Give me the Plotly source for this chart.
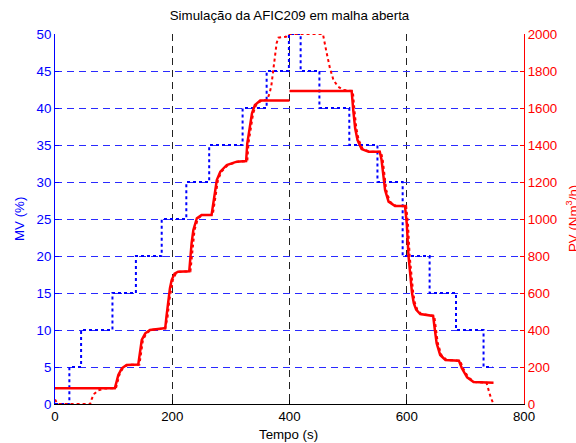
import plotly.graph_objects as go

# ---- data ----
# MV (%) step signal: times at which the level changes, and the new level
mv_t = [0, 24.5, 44.5, 98, 138, 182, 224, 263, 320, 361, 399, 419, 451, 502, 550, 593, 639, 684, 731, 746]
mv_v = [0, 5, 10, 15, 20, 25, 30, 35, 40, 45, 50, 45, 40, 35, 30, 20, 15, 10, 5, 5]

# PV model (solid red), two simulation segments separated by a gap
pv_sim_t = [0, 102, 105, 108, 114, 122, 142, 145, 148, 154, 162, 186, 188, 190, 193, 196, 199, 204, 210, 229,
            233, 236, 242, 250, 267, 270, 276, 282, 293, 310, 326, 328, 332, 336, 341, 350, 400,
            None,
            400, 506, 509, 512, 516, 523, 535, 554, 557, 560, 563, 569, 580, 597, 600, 603, 606, 609, 612,
            616, 623, 645, 648, 651, 657, 666, 689, 694, 703, 714, 748]
pv_sim_v = [85, 85, 120, 157, 193, 211, 213, 292, 346, 382, 400, 409, 409, 470, 560, 625, 670, 705, 715, 717,
            869, 941, 1004, 1021, 1021, 1085, 1211, 1256, 1292, 1310, 1313, 1409, 1499, 1571, 1616, 1640, 1640,
            None,
            1692, 1692, 1580, 1490, 1427, 1378, 1364, 1364, 1320, 1247, 1157, 1094, 1070, 1070, 977, 800, 680, 600, 545,
            510, 486, 476, 400, 328, 265, 238, 234, 193, 144, 119, 115]

# PV measured (dotted red)
pv_real_t = [0, 3, 6, 60, 63, 67, 74, 85, 104, 107, 110, 116, 124, 144, 147, 150, 156, 164, 188, 192, 195, 198,
             201, 206, 212, 231, 235, 238, 244, 252, 269, 272, 278, 284, 295, 312, 328, 330, 334, 338, 343, 352,
             362, 366, 369, 372, 375, 378, 381, 394, 397, 457, 463, 469, 475, 483, 492, 508, 511, 514, 518, 525,
             537, 556, 559, 562, 565, 571, 582, 599, 602, 605, 608, 611, 614, 618, 625, 647, 650, 653, 659, 668,
             691, 696, 705, 716, 736, 739, 742, 745, 748]
pv_real_v = [25, 8, 0, 0, 30, 55, 74, 84, 86, 125, 160, 195, 211, 213, 292, 346, 382, 400, 409, 470, 560, 625,
             670, 705, 715, 717, 869, 941, 1004, 1021, 1021, 1085, 1211, 1256, 1292, 1310, 1313, 1409, 1499, 1571, 1616, 1640,
             1645, 1680, 1720, 1790, 1880, 1950, 1980, 1985, 2000, 2000, 1904, 1815, 1751, 1715, 1697, 1692, 1580, 1490, 1427, 1378,
             1364, 1364, 1320, 1247, 1157, 1094, 1070, 1070, 977, 800, 680, 600, 545, 510, 486, 476, 400, 328, 265, 238,
             234, 193, 144, 119, 115, 76, 49, 22, 0]

x_ticks = [0, 200, 400, 600, 800]
mv_ticks = [0, 5, 10, 15, 20, 25, 30, 35, 40, 45, 50]
pv_ticks = [0, 200, 400, 600, 800, 1000, 1200, 1400, 1600, 1800, 2000]

title_text = "Simulação da AFIC209 em malha aberta"
x_title = "Tempo (s)"
y1_title = "MV (%)"
y2_title = "PV (Nm<sup>3</sup>/h)"

BLUE = "#0000ff"
RED = "#ff0000"
FONT = "Liberation Sans, Arial, sans-serif"
FS = 13.3

fig = go.Figure()
fig.add_trace(go.Scatter(x=mv_t, y=mv_v, mode="lines", line=dict(color=BLUE, width=2, dash="dot", shape="hv"),
                         yaxis="y", showlegend=False))
fig.add_trace(go.Scatter(x=pv_sim_t, y=pv_sim_v, mode="lines", line=dict(color=RED, width=2.5),
                         yaxis="y2", connectgaps=False, showlegend=False))
fig.add_trace(go.Scatter(x=pv_real_t, y=pv_real_v, mode="lines", line=dict(color=RED, width=2, dash="dot"),
                         yaxis="y2", showlegend=False))

fig.update_layout(
    width=576, height=443,
    margin=dict(l=55, r=52, t=34, b=39),
    paper_bgcolor="white", plot_bgcolor="white",
    font=dict(family=FONT, size=FS, color="black"),
    title=dict(text=title_text, x=0.5, xref="paper", y=1 - 15 / 443, yanchor="middle",
               font=dict(family=FONT, size=FS, color="black")),
    xaxis=dict(range=[0, 800], tickvals=x_ticks, showgrid=True, gridcolor="#222222", gridwidth=1,
               griddash="7px,5px", ticks="inside", ticklen=4, tickcolor="black", showline=True,
               linecolor="black", linewidth=1, zeroline=False, tickfont=dict(color="black", size=FS)),
    yaxis=dict(range=[0, 50], tickvals=mv_ticks, showgrid=True, gridcolor="#2a2aff", gridwidth=1,
               griddash="7px,5px", ticks="inside", ticklen=4, tickcolor=BLUE, showline=True,
               linecolor=BLUE, linewidth=1, zeroline=False, tickfont=dict(color=BLUE, size=FS)),
    yaxis2=dict(range=[0, 2000], tickvals=pv_ticks, overlaying="y", side="right", showgrid=False,
                ticks="inside", ticklen=4, tickcolor=RED, showline=True, linecolor=RED, linewidth=1,
                zeroline=False, tickfont=dict(color=RED, size=FS)),
    annotations=[
        dict(text=x_title, xref="paper", yref="paper", x=(288 - 55) / 469, y=(404 - 434) / 370,
             xanchor="center", yanchor="middle", showarrow=False, font=dict(color="black", size=FS)),
        dict(text=y1_title, xref="paper", yref="paper", x=(19 - 55) / 469, y=0.5, textangle=-90,
             xanchor="center", yanchor="middle", showarrow=False, font=dict(color=BLUE, size=FS)),
        dict(text=y2_title, xref="paper", yref="paper", x=(572 - 55) / 469, y=0.5, textangle=-90,
             xanchor="center", yanchor="middle", showarrow=False, font=dict(color=RED, size=FS)),
    ],
)

fig.write_html("out.html")
